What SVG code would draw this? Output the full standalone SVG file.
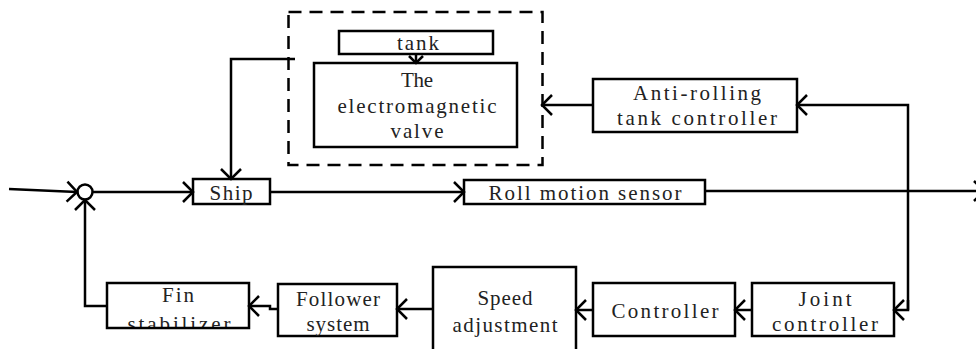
<svg xmlns="http://www.w3.org/2000/svg" width="976" height="349" viewBox="0 0 976 349">
<style>
.b{fill:none;stroke:#000;stroke-width:2.5}
.c{fill:none;stroke:#000;stroke-width:2.5}
.t{font-family:"Liberation Serif","DejaVu Serif",serif;font-size:21px;fill:#222;text-anchor:middle}
</style>
<defs>
<marker id="a" markerUnits="userSpaceOnUse" markerWidth="16" markerHeight="26" viewBox="-13 -13 16 26" refX="0" refY="0" orient="auto"><path d="M-10,-10 L0,0 L-10,10" fill="none" stroke="#000" stroke-width="2.5"/></marker>
<marker id="s" markerUnits="userSpaceOnUse" markerWidth="12" markerHeight="20" viewBox="-10 -10 12 20" refX="0" refY="0" orient="auto"><path d="M-7,-7 L0,0 L-7,7" fill="none" stroke="#000" stroke-width="2.5"/></marker>
<clipPath id="finclip"><rect x="107" y="283" width="142" height="45"/></clipPath>
</defs>
<rect width="976" height="349" fill="#fff"/>

<g id="tank-group">
<rect x="288.5" y="12" width="254" height="153" fill="none" stroke="#000" stroke-width="2.5" stroke-dasharray="13 8"/>
</g>
<g id="tank">
<rect class="b" x="339" y="31" width="154" height="23"/>
<text class="t" x="418" y="50" textLength="42">tank</text>
</g>
<g id="valve">
<rect class="b" x="314" y="63" width="203" height="84"/>
<text class="t" x="417" y="87" textLength="32">The</text>
<text class="t" x="417" y="113" textLength="159">electromagnetic</text>
<text class="t" x="417" y="138" textLength="53">valve</text>
</g>
<g id="anti">
<rect class="b" x="593" y="79" width="204" height="53"/>
<text class="t" x="697" y="100" textLength="128">Anti-rolling</text>
<text class="t" x="697" y="125" textLength="160">tank controller</text>
</g>
<g id="sum">
<circle cx="85" cy="192" r="7.5" fill="#fff" stroke="#000" stroke-width="2.5"/>
</g>
<g id="ship">
<rect class="b" x="193" y="179" width="77" height="25"/>
<text class="t" x="231" y="200" textLength="43">Ship</text>
</g>
<g id="roll">
<rect class="b" x="464" y="180" width="241" height="24"/>
<text class="t" x="585" y="200" textLength="193">Roll motion sensor</text>
</g>
<g id="fin">
<text class="t" x="178" y="302" textLength="32">Fin</text>
<text class="t" x="179" y="331" textLength="103" clip-path="url(#finclip)">stabilizer</text>
<rect class="b" x="107" y="283" width="142" height="45"/>
</g>
<g id="follower">
<rect class="b" x="278" y="284" width="119" height="52"/>
<text class="t" x="338" y="306" textLength="84">Follower</text>
<text class="t" x="338" y="331" textLength="63">system</text>
</g>
<g id="speed">
<path class="b" d="M433,355 V267 H576 V355"/>
<text class="t" x="505" y="305" textLength="55">Speed</text>
<text class="t" x="505" y="332" textLength="105">adjustment</text>
</g>
<g id="controller">
<rect class="b" x="593" y="283" width="142" height="53"/>
<text class="t" x="665" y="318" textLength="107">Controller</text>
</g>
<g id="joint">
<rect class="b" x="752" y="283" width="142" height="53"/>
<text class="t" x="825" y="306" textLength="53">Joint</text>
<text class="t" x="825" y="331" textLength="106">controller</text>
</g>

<g id="connectors">
<path class="c" d="M9,189 L77,192" marker-end="url(#a)"/>
<path class="c" d="M93,192 H193" marker-end="url(#a)"/>
<path class="c" d="M270,192 H464" marker-end="url(#a)"/>
<path class="c" d="M705,191 H984" marker-end="url(#a)"/>
<path class="c" d="M295,59 H231 V179" marker-end="url(#a)"/>
<path class="c" d="M416,54 V63" marker-end="url(#s)"/>
<path class="c" d="M593,105 H542" marker-end="url(#a)"/>
<path class="c" d="M908,310 V105 H797" marker-end="url(#a)"/>
<path class="c" d="M908,300 V310 H894" marker-end="url(#a)"/>
<path class="c" d="M752,310 H735" marker-end="url(#a)"/>
<path class="c" d="M593,310 H576" marker-end="url(#a)"/>
<path class="c" d="M433,309 H397" marker-end="url(#a)"/>
<path class="c" d="M278,309 H270 V306 H249" marker-end="url(#a)"/>
<path class="c" d="M107,306 H85 V200" marker-end="url(#a)"/>
</g>
</svg>
